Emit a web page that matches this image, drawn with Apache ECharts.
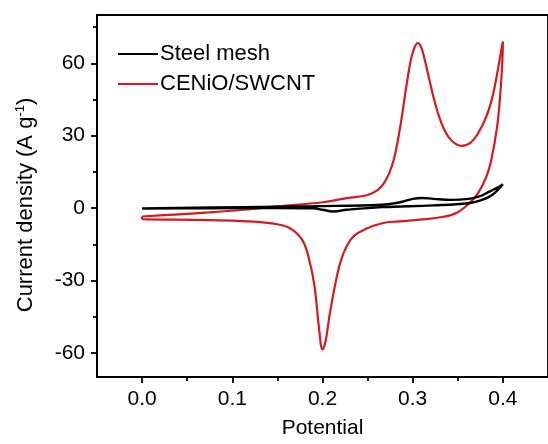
<!DOCTYPE html>
<html>
<head>
<meta charset="utf-8">
<script src="https://cdn.jsdelivr.net/npm/echarts@6/dist/echarts.min.js"></script>
<style>html,body{margin:0;padding:0;background:#fff}#c{width:548px;height:444px}</style>
</head>
<body>
<div id="c"></div>
<script>
// ---- data ----
const seriesNames = ['Steel mesh', 'CENiO/SWCNT'];

const steelPotential = [0, 0.112, 0.19, 0.266, 0.285, 0.3, 0.31, 0.323, 0.342, 0.362, 0.373, 0.385, 0.394, 0.4,
  0.388, 0.377, 0.362, 0.323, 0.266, 0.227, 0.212, 0.2, 0.19, 0.15, 0.074, 0];
const steelCurrent = [-0.2, 0.4, 0.8, 1.4, 2.3, 3.8, 4.2, 3.8, 3.4, 3.8, 4.7, 6.8, 8.5, 9.9,
  5.4, 3.4, 2.0, 1.1, 0.4, -0.7, -1.4, -0.7, -0.1, 0, -0.1, -0.2];

const cenioPotential = [0, 0.036, 0.074, 0.112, 0.151, 0.2, 0.227, 0.25, 0.261, 0.268, 0.274, 0.279, 0.2835, 0.288, 0.293, 0.298,
  0.302, 0.3056, 0.309, 0.313, 0.318, 0.323, 0.3287, 0.335, 0.343, 0.354, 0.364, 0.3725, 0.3817, 0.389, 0.3945, 0.3985, 0.4,
  0.3993, 0.397, 0.3934, 0.387, 0.3817, 0.3725, 0.363, 0.349, 0.334, 0.308, 0.285, 0.266, 0.247, 0.235,
  0.227, 0.22, 0.214, 0.208, 0.2035, 0.2, 0.1965, 0.191, 0.185, 0.178, 0.166, 0.151, 0.112, 0.074, 0.036, 0.005, 0, 0];
const cenioCurrent = [-3.5, -2.7, -1.8, -0.7, 0.7, 2.4, 4.1, 5.4, 7.4, 10.2, 14.5, 20, 28, 38, 50.5, 61.5,
  66.5, 68.4, 67, 62, 54, 46, 38.5, 32.5, 28, 25.8, 27, 31, 38, 47, 57.5, 66, 69,
  60.3, 46.7, 33.2, 19.7, 13, 6.2, 2.1, -1.9, -3.6, -4.8, -5.5, -6.3, -8.8, -11.5,
  -15.6, -22.3, -31.8, -44, -55, -58.6, -51, -32, -21, -13.5, -8.8, -6.8, -5.4, -5, -4.8, -4.7, -4.2, -3.5];

const xMajorTicks = [0, 0.1, 0.2, 0.3, 0.4];
const xMinorTicks = [0.05, 0.15, 0.25, 0.35];
const yMajorTicks = [-60, -30, 0, 30, 60];
const yMinorTicks = [-45, -15, 15, 45, 75];

// ---- chart ----
const zip = (a, b) => a.map((v, i) => [v, b[i]]);
const FONT = '"Liberation Sans", Arial, sans-serif';
const chart = echarts.init(document.getElementById('c'), null, {renderer: 'canvas'});

const axisLineStyle = {color: '#000', width: 1.8};
chart.setOption({
  animation: false,
  backgroundColor: '#fff',
  grid: {left: 97, right: -4, top: 15, bottom: 60, show: true, borderColor: '#000', borderWidth: 1.8, backgroundColor: 'transparent'},
  legend: {
    data: seriesNames,
    orient: 'vertical',
    left: 113, top: 38,
    itemWidth: 40, itemHeight: 2, itemGap: 8,
    icon: 'rect',
    textStyle: {fontFamily: FONT, fontSize: 22, color: '#000', padding: [0, 0, 0, -3]}
  },
  xAxis: [{
    type: 'value', min: -0.05, max: 0.45, position: 'bottom',
    name: 'Potential', nameLocation: 'middle', nameGap: 41,
    nameTextStyle: {fontFamily: FONT, fontSize: 21, color: '#000'},
    axisLine: {show: true, onZero: false, lineStyle: axisLineStyle},
    axisTick: {show: true, customValues: xMajorTicks, length: 6, lineStyle: {color: '#000', width: 1.8}},
    axisLabel: {customValues: xMajorTicks, formatter: v => v.toFixed(1), fontFamily: FONT, fontSize: 21, color: '#000', margin: 12},
    splitLine: {show: false}
  }, {
    type: 'value', min: -0.05, max: 0.45, position: 'bottom',
    axisLine: {show: false, onZero: false},
    axisTick: {show: true, customValues: xMinorTicks, length: 4, lineStyle: {color: '#000', width: 1.8}},
    axisLabel: {show: false},
    splitLine: {show: false}
  }],
  yAxis: [{
    type: 'value', min: -70, max: 80, position: 'left',
    name: 'Current density (A g{sup|-1})', nameLocation: 'middle', nameGap: 60, nameRotate: 90,
    nameTextStyle: {fontFamily: FONT, fontSize: 22, color: '#000', padding: [0, 18, 0, 0],
      rich: {sup: {fontFamily: FONT, fontSize: 13, color: '#000', verticalAlign: 'top', padding: [0, 0, 10, 0]}}},
    axisLine: {show: true, onZero: false, lineStyle: axisLineStyle},
    axisTick: {show: true, customValues: yMajorTicks, length: 6, lineStyle: {color: '#000', width: 1.8}},
    axisLabel: {customValues: yMajorTicks, fontFamily: FONT, fontSize: 21, color: '#000', margin: 12},
    splitLine: {show: false}
  }, {
    type: 'value', min: -70, max: 80, position: 'left',
    axisLine: {show: false, onZero: false},
    axisTick: {show: true, customValues: yMinorTicks, length: 4, lineStyle: {color: '#000', width: 1.8}},
    axisLabel: {show: false},
    splitLine: {show: false}
  }],
  series: [{
    name: seriesNames[0], type: 'line', data: zip(steelPotential, steelCurrent),
    showSymbol: false, symbol: 'none', smooth: 0.4, color: '#000',
    lineStyle: {color: '#000', width: 2.4}, z: 3
  }, {
    name: seriesNames[1], type: 'line', data: zip(cenioPotential, cenioCurrent),
    showSymbol: false, symbol: 'none', smooth: 0.4, color: '#d7191f',
    lineStyle: {color: '#d7191f', width: 2.2}, z: 2
  }]
});
</script>
</body>
</html>
